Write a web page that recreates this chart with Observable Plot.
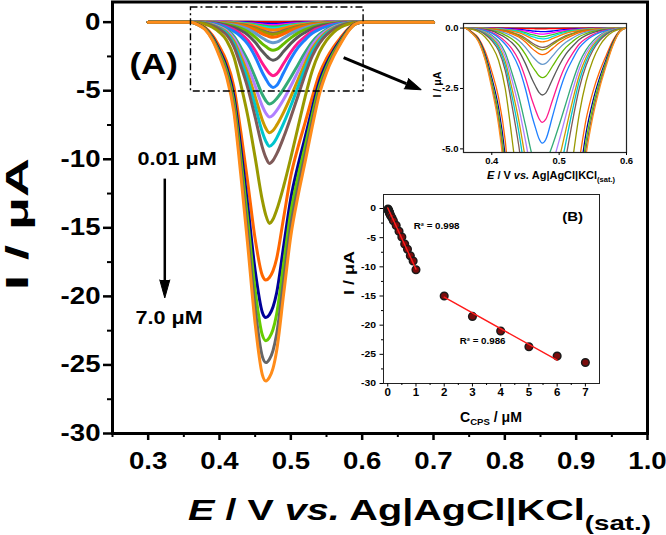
<!DOCTYPE html>
<html>
<head>
<meta charset="utf-8">
<script src="https://cdn.jsdelivr.net/npm/d3@7"></script>
<script src="https://cdn.jsdelivr.net/npm/@observablehq/plot@0.6"></script>
<style>
  html, body { margin: 0; padding: 0; background: white; }
  #wrap { position: relative; width: 666px; height: 535px; overflow: hidden; }
  #wrap svg { position: absolute; left: 0; top: 0; }
</style>
</head>
<body>
<div id="wrap"></div>
<script>
// ---------------- DATA ----------------
// potential grid (V vs Ag|AgCl|KCl sat.)
const potentials = [0.30, 0.36, 0.37, 0.38, 0.39, 0.40, 0.41, 0.42, 0.43, 0.44, 0.45, 0.46, 0.465, 0.47, 0.475,
  0.48, 0.49, 0.50, 0.51, 0.52, 0.53, 0.54, 0.55, 0.56, 0.57, 0.58, 0.59, 0.60, 0.70];

// CPS concentrations (µM), one DPV curve each (0 = blank)
const concentrations = [0, 0.01, 0.02, 0.03, 0.04, 0.05, 0.06, 0.07, 0.08, 0.1, 0.15, 0.2, 0.3, 0.4, 0.5,
  0.6, 0.7, 0.8, 0.9, 1, 2, 3, 4, 5, 6, 7];

const curveColors = ["#000000", "#ff0000", "#0000ff", "#ff00ff", "#33cc33", "#00e0e0", "#ff7f00", "#7f5f5f",
  "#999900", "#ff6600", "#6699cc", "#66bb00", "#595959", "#ff1a8c", "#1e7fff",
  "#33aa77", "#b07fff", "#cc9900", "#00c5cd", "#7f5a58", "#999900", "#ff6600", "#000099", "#66cc00", "#666666", "#ff8c1a"];

// current (µA) of each curve at the potentials above
const currents = [
  [0,0,0,0,0,0,0,0,0,0,0,0,0,0,0,0,0,0,0,0,0,0,0,0,0,0,0,0,0],
  [0,0,0,0,0,0,0,0,-0.01,-0.01,-0.02,-0.02,-0.03,-0.03,-0.03,-0.03,-0.02,-0.02,-0.01,-0.01,-0.01,0,0,0,0,0,0,0,0],
  [0,0,0,0,0,-0.01,-0.01,-0.02,-0.03,-0.05,-0.08,-0.12,-0.13,-0.14,-0.15,-0.15,-0.12,-0.08,-0.06,-0.04,-0.03,-0.02,-0.01,-0.01,0,0,0,0,0],
  [0,0,0,0,-0.01,-0.01,-0.02,-0.04,-0.06,-0.09,-0.13,-0.19,-0.22,-0.24,-0.25,-0.24,-0.19,-0.14,-0.10,-0.07,-0.04,-0.03,-0.02,-0.01,-0.01,0,0,0,0],
  [0,0,0,0,-0.01,-0.02,-0.03,-0.05,-0.08,-0.12,-0.19,-0.27,-0.30,-0.34,-0.35,-0.34,-0.27,-0.20,-0.14,-0.09,-0.06,-0.04,-0.02,-0.01,-0.01,0,0,0,0],
  [0,0,0,0,-0.01,-0.02,-0.04,-0.06,-0.10,-0.15,-0.24,-0.35,-0.39,-0.43,-0.45,-0.44,-0.35,-0.25,-0.18,-0.12,-0.08,-0.05,-0.03,-0.02,-0.01,0,0,0,0],
  [0,0,0,0,-0.01,-0.03,-0.05,-0.08,-0.13,-0.19,-0.30,-0.44,-0.50,-0.55,-0.57,-0.55,-0.44,-0.32,-0.22,-0.15,-0.10,-0.06,-0.04,-0.02,-0.01,-0.01,0,0,0],
  [0,0,0,-0.01,-0.02,-0.04,-0.07,-0.11,-0.18,-0.27,-0.42,-0.62,-0.70,-0.77,-0.80,-0.78,-0.62,-0.45,-0.31,-0.22,-0.14,-0.09,-0.06,-0.03,-0.02,-0.01,0,0,0],
  [0,0,0,-0.01,-0.02,-0.04,-0.08,-0.13,-0.20,-0.31,-0.48,-0.69,-0.78,-0.86,-0.90,-0.87,-0.69,-0.50,-0.35,-0.24,-0.15,-0.10,-0.06,-0.04,-0.02,-0.01,0,0,0],
  [0,0,0,-0.01,-0.02,-0.05,-0.09,-0.15,-0.24,-0.37,-0.58,-0.85,-0.96,-1.06,-1.10,-1.07,-0.85,-0.62,-0.43,-0.30,-0.19,-0.12,-0.08,-0.04,-0.02,-0.01,0,0,0],
  [0,0,0,-0.01,-0.03,-0.07,-0.13,-0.21,-0.33,-0.51,-0.80,-1.16,-1.31,-1.44,-1.50,-1.46,-1.16,-0.84,-0.59,-0.41,-0.26,-0.17,-0.11,-0.06,-0.03,-0.02,0,0,0],
  [0,0,-0.01,-0.02,-0.04,-0.09,-0.17,-0.29,-0.45,-0.70,-1.09,-1.58,-1.78,-1.97,-2.05,-1.99,-1.58,-1.15,-0.80,-0.55,-0.35,-0.23,-0.14,-0.08,-0.04,-0.02,-0.01,0,0],
  [0,0,-0.01,-0.02,-0.06,-0.12,-0.24,-0.39,-0.61,-0.94,-1.47,-2.13,-2.41,-2.66,-2.77,-2.69,-2.13,-1.55,-1.08,-0.75,-0.47,-0.30,-0.19,-0.11,-0.06,-0.03,-0.01,0,0],
  [0,0,-0.01,-0.03,-0.08,-0.18,-0.33,-0.55,-0.86,-1.33,-2.07,-3.00,-3.39,-3.74,-3.90,-3.78,-3.00,-2.18,-1.52,-1.05,-0.66,-0.43,-0.27,-0.16,-0.08,-0.04,-0.01,0,0],
  [0,0,-0.01,-0.04,-0.10,-0.21,-0.40,-0.67,-1.05,-1.62,-2.52,-3.67,-4.14,-4.57,-4.76,-4.62,-3.67,-2.67,-1.86,-1.29,-0.81,-0.52,-0.33,-0.19,-0.10,-0.05,-0.01,0,0],
  [0,0,-0.02,-0.06,-0.15,-0.30,-0.54,-1.02,-1.86,-2.82,-4.02,-5.28,-5.73,-5.97,-5.85,-5.58,-4.86,-4.02,-3.12,-2.22,-1.44,-0.90,-0.54,-0.30,-0.15,-0.06,-0.02,0,0],
  [0,0,-0.02,-0.07,-0.17,-0.35,-0.63,-1.18,-2.15,-3.27,-4.66,-6.12,-6.64,-6.92,-6.78,-6.46,-5.63,-4.66,-3.61,-2.57,-1.67,-1.04,-0.63,-0.35,-0.17,-0.07,-0.02,0,0],
  [0,0,-0.02,-0.08,-0.20,-0.41,-0.73,-1.38,-2.51,-3.81,-5.43,-7.13,-7.74,-8.06,-7.90,-7.53,-6.56,-5.43,-4.21,-3.00,-1.94,-1.22,-0.73,-0.41,-0.20,-0.08,-0.02,0,0],
  [0,0,-0.03,-0.09,-0.23,-0.46,-0.82,-1.55,-2.82,-4.28,-6.10,-8.01,-8.69,-9.05,-8.87,-8.46,-7.37,-6.10,-4.73,-3.37,-2.18,-1.37,-0.82,-0.46,-0.23,-0.09,-0.03,0,0],
  [0,0,-0.03,-0.10,-0.26,-0.52,-0.93,-1.76,-3.21,-4.86,-6.93,-9.11,-9.88,-10.30,-10.09,-9.63,-8.38,-6.93,-5.38,-3.83,-2.48,-1.55,-0.93,-0.52,-0.26,-0.10,-0.03,0,0],
  [0,0,-0.04,-0.15,-0.37,-0.74,-1.33,-2.51,-4.57,-6.93,-9.88,-12.98,-14.09,-14.68,-14.38,-13.72,-11.95,-9.88,-7.67,-5.46,-3.54,-2.21,-1.33,-0.74,-0.37,-0.15,-0.04,0,0],
  [0,0,-0.15,-0.40,-0.95,-1.80,-2.87,-4.67,-8.05,-11.85,-15.82,-18.47,-18.81,-18.62,-18.14,-17.26,-14.23,-11.21,-9.13,-7.33,-5.48,-3.78,-2.65,-1.80,-1.12,-0.51,-0.11,0,0],
  [0,0,-0.17,-0.45,-1.08,-2.06,-3.29,-5.35,-9.22,-13.57,-18.12,-21.15,-21.54,-21.33,-20.78,-19.77,-16.30,-12.84,-10.46,-8.40,-6.28,-4.33,-3.03,-2.06,-1.28,-0.58,-0.13,0,0],
  [0,0,-0.19,-0.49,-1.17,-2.22,-3.55,-5.77,-9.95,-14.64,-19.54,-22.81,-23.23,-23.00,-22.42,-21.32,-17.58,-13.85,-11.28,-9.06,-6.77,-4.67,-3.27,-2.22,-1.38,-0.63,-0.14,0,0],
  [0,0,-0.20,-0.52,-1.25,-2.37,-3.79,-6.16,-10.63,-15.64,-20.88,-24.38,-24.83,-24.58,-23.95,-22.78,-18.79,-14.80,-12.05,-9.68,-7.24,-4.99,-3.49,-2.37,-1.47,-0.67,-0.15,0,0],
  [0,0,-0.20,-0.55,-1.30,-2.50,-4.00,-6.50,-11.20,-16.50,-22.00,-25.70,-26.17,-25.90,-25.25,-24.00,-19.80,-15.60,-12.70,-10.20,-7.63,-5.26,-3.68,-2.50,-1.55,-0.71,-0.15,0,0]
];

// calibration plot (inset B)
const calConc = [0.01, 0.02, 0.03, 0.04, 0.05, 0.06, 0.07, 0.08, 0.1, 0.15, 0.2, 0.3, 0.4, 0.5, 0.6, 0.7, 0.8, 0.9, 1, 2, 3, 4, 5, 6, 7];
const calCurrent = [-0.1, -0.2, -0.35, -0.45, -0.55, -0.7, -0.85, -0.95, -1.2, -1.6, -2.1, -2.9, -3.9, -4.9, -6.1, -7.0, -8.1, -9.0, -10.5,
  -15.0, -18.5, -21.0, -23.7, -25.3, -26.4];
const fitLowX = [0, 1], fitLowY = [0.1, -10.4];
const fitHighX = [2, 6], fitHighY = [-15.2, -26.0];

// tick values
const xTicks = [0.3, 0.4, 0.5, 0.6, 0.7, 0.8, 0.9, 1.0];
const xMinor = [0.25, 0.35, 0.45, 0.55, 0.65, 0.75, 0.85, 0.95];
const yTicks = [-30, -25, -20, -15, -10, -5, 0];
const yMinor = [-27.5, -22.5, -17.5, -12.5, -7.5, -2.5];
const insetAXTicks = [0.4, 0.5, 0.6];
const insetAYTicks = [0, -2.5, -5];
const insetBXTicks = [0, 1, 2, 3, 4, 5, 6, 7];
const insetBXMinor = [0.5, 1.5, 2.5, 3.5, 4.5, 5.5, 6.5];
const insetBYTicks = [-30, -25, -20, -15, -10, -5, 0];
const insetBYMinor = [-27.5, -22.5, -17.5, -12.5, -7.5, -2.5];

// ---------------- CHART ----------------
const FONT = "'Liberation Sans', Arial, Helvetica, sans-serif";
const baseStyle = {fontFamily: FONT, fontWeight: "bold", background: "transparent", color: "black", overflow: "visible"};

function curveMarks(width, clip) {
  return currents.map((row, i) =>
    Plot.line(potentials.map((e, j) => ({E: e, I: row[j]})), {
      x: "E", y: "I", stroke: curveColors[i], strokeWidth: width, curve: "monotone-x", clip: !!clip
    })
  );
}

const main = Plot.plot({
  width: 666, height: 535,
  marginLeft: 112, marginRight: 19, marginTop: 1.5, marginBottom: 102,
  x: {domain: [0.25, 1.0]},
  y: {domain: [-30, 1.47]},
  style: baseStyle,
  marks: [
    ...curveMarks(3),
    Plot.rect([0], {x1: 0.36, x2: 0.602, y1: -5.06, y2: 1.07, fill: "none", stroke: "black", strokeWidth: 1.4, strokeDasharray: "7,3,2,3"}),
    Plot.link([0], {x1: 0.574, y1: -2.58, x2: 0.6618, y2: -4.48, stroke: "black", strokeWidth: 3}),
    Plot.vector([0], {x: 0.6618, y: -4.48, length: 16, rotate: 112.6, shape: "spike", r: 5.5, anchor: "start", fill: "black", stroke: "black", strokeWidth: 1}),
    Plot.link([0], {x1: 0.3233, y1: -11.41, x2: 0.3233, y2: -18.9, stroke: "black", strokeWidth: 2.5}),
    Plot.vector([0], {x: 0.3233, y: -18.8, length: 18, rotate: 180, shape: "spike", r: 5, anchor: "start", fill: "black", stroke: "black", strokeWidth: 1}),
    Plot.text(["(A)"], {x: 0.2738, y: -3.09, text: d => d, textAnchor: "start", fontSize: 29, fill: "black"}),
    Plot.text(["0.01 μM"], {x: 0.285, y: -9.99, text: d => d, textAnchor: "start", fontSize: 18, fill: "black"}),
    Plot.text(["7.0 μM"], {x: 0.2822, y: -21.6, text: d => d, textAnchor: "start", fontSize: 18, fill: "black"}),
    Plot.frame({stroke: "black", strokeWidth: 3}),
    Plot.axisX({ticks: xMinor, tickSize: 4, tickFormat: () => "", strokeWidth: 2, label: null}),
    Plot.axisX({ticks: xTicks, tickSize: 7, tickPadding: 12, tickFormat: d => d.toFixed(1), fontSize: 23, strokeWidth: 2.5, label: null}),
    Plot.axisY({ticks: yMinor, tickSize: 5, tickFormat: () => "", strokeWidth: 2, label: null}),
    Plot.axisY({ticks: yTicks, tickSize: 9, tickPadding: 3, tickFormat: d => String(d), fontSize: 23, strokeWidth: 2.5, label: null})
  ]
});

const insetA = Plot.plot({
  width: 666, height: 535,
  marginLeft: 463, marginRight: 40, marginTop: 23, marginBottom: 383,
  x: {domain: [0.358, 0.6]},
  y: {domain: [-5.15, 0.19]},
  style: baseStyle,
  marks: [
    ...curveMarks(1.3, true),
    Plot.frame({stroke: "#222", strokeWidth: 1.2}),
    Plot.axisX({ticks: insetAXTicks, tickSize: 3, tickPadding: 2, tickFormat: d => d.toFixed(1), fontSize: 8.5, label: null}),
    Plot.axisY({ticks: insetAYTicks, tickSize: 3, tickPadding: 2, tickFormat: d => d.toFixed(1), fontSize: 8.5, label: null})
  ]
});

const cal = calConc.map((c, i) => ({c, I: calCurrent[i]}));
const insetB = Plot.plot({
  width: 666, height: 535,
  marginLeft: 383, marginRight: 67, marginTop: 194, marginBottom: 152,
  x: {domain: [-0.15, 7.5]},
  y: {domain: [-30, 2.4]},
  style: baseStyle,
  marks: [
    Plot.dot(cal, {x: "c", y: "I", r: 3.8, fill: "#7a0c0c", stroke: "#1a1a1a", strokeWidth: 1.5}),
    Plot.line(fitLowX.map((x, i) => ({x, y: fitLowY[i]})), {x: "x", y: "y", stroke: "#ff1a1a", strokeWidth: 1.4}),
    Plot.line(fitHighX.map((x, i) => ({x, y: fitHighY[i]})), {x: "x", y: "y", stroke: "#ff1a1a", strokeWidth: 1.4}),
    Plot.text(["(B)"], {x: 6.55, y: -1.37, text: d => d, fontSize: 13, fill: "black"}),
    Plot.text(["R² = 0.998"], {x: 1.73, y: -3.09, text: d => d, fontSize: 8.5, fill: "black"}),
    Plot.text(["R² = 0.986"], {x: 3.36, y: -22.7, text: d => d, fontSize: 8.5, fill: "black"}),
    Plot.frame({stroke: "#222", strokeWidth: 1}),
    Plot.axisX({ticks: insetBXMinor, tickSize: 2, tickFormat: () => "", label: null}),
    Plot.axisX({ticks: insetBXTicks, tickSize: 3.5, tickPadding: 2, tickFormat: d => String(d), fontSize: 10, label: null}),
    Plot.axisY({ticks: insetBYMinor, tickSize: 2, tickFormat: () => "", label: null}),
    Plot.axisY({ticks: insetBYTicks, tickSize: 3.5, tickPadding: 4, tickFormat: d => String(d), fontSize: 9, label: null})
  ]
});

const wrap = document.getElementById("wrap");
wrap.appendChild(main);
wrap.appendChild(insetA);
wrap.appendChild(insetB);

// ---------- axis titles (real text) ----------
function title(svg, opts, parts) {
  const t = d3.select(svg).append("text")
    .attr("font-family", FONT).attr("font-weight", "bold").attr("fill", "black")
    .attr("font-size", opts.size);
  if (opts.transform) t.attr("transform", opts.transform);
  if (opts.x != null) t.attr("x", opts.x).attr("y", opts.y);
  t.attr("text-anchor", opts.anchor || "start");
  for (const p of parts) {
    const s = t.append("tspan").text(p.t);
    if (p.italic) s.attr("font-style", "italic");
    if (p.size) s.attr("font-size", p.size);
    if (p.dy) s.attr("dy", p.dy);
  }
  if (opts.len) t.attr("textLength", opts.len).attr("lengthAdjust", "spacingAndGlyphs");
  return t;
}

// main
title(main, {transform: "translate(28,224) rotate(-90)", anchor: "middle", size: 31, len: 132}, [{t: "I / μA"}]);
title(main, {x: 188, y: 520, size: 30, len: 463}, [
  {t: "E", italic: true}, {t: " / V "}, {t: "vs.", italic: true}, {t: " Ag|AgCl|KCl"}, {t: "(sat.)", size: 21, dy: 10}
]);
// inset A
title(insetA, {transform: "translate(441,84.5) rotate(-90)", anchor: "middle", size: 11, len: 26}, [{t: "I / μA"}]);
title(insetA, {x: 487, y: 179, size: 11, len: 128}, [
  {t: "E", italic: true}, {t: " / V "}, {t: "vs.", italic: true}, {t: " Ag|AgCl|KCl"}, {t: "(sat.)", size: 7.5, dy: 3}
]);
// inset B
title(insetB, {transform: "translate(354,273) rotate(-90)", anchor: "middle", size: 14, len: 44}, [{t: "I / μA"}]);
title(insetB, {x: 460, y: 422, size: 14, len: 62}, [
  {t: "C"}, {t: "CPS", size: 9.5, dy: 3}, {t: " / μM", dy: -3}
]);

// widen the bold glyphs like the reference font
function stretch(svg, f) {
  for (const t of svg.querySelectorAll("text")) {
    if (t.hasAttribute("textLength")) continue;
    const len = t.getComputedTextLength();
    if (len > 0) {
      t.setAttribute("textLength", (len * f).toFixed(1));
      t.setAttribute("lengthAdjust", "spacingAndGlyphs");
    }
  }
}
stretch(main, 1.2);
stretch(insetA, 1.12);
stretch(insetB, 1.15);
</script>
</body>
</html>
